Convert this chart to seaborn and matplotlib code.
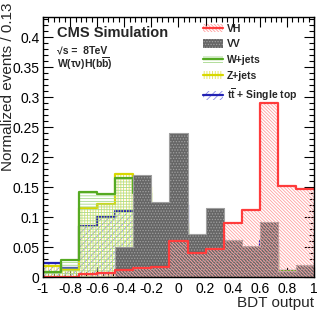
import numpy as np
import matplotlib
matplotlib.use("Agg")
import matplotlib.pyplot as plt
import seaborn as sns
from matplotlib.patches import Patch
from matplotlib.lines import Line2D
from matplotlib.ticker import MultipleLocator, FuncFormatter

# BDT output binning (15 bins between -1 and 1)
bin_edges = [-1.0, -0.8667, -0.7333, -0.6, -0.4667, -0.3333, -0.2, -0.0667,
             0.0667, 0.2, 0.3333, 0.4667, 0.6, 0.7333, 0.8667, 1.0]

# normalized yields per bin
vh = [0.0, 0.0, 0.005, 0.008, 0.012, 0.016, 0.018, 0.061,
      0.040, 0.047, 0.091, 0.112, 0.290, 0.152, 0.147]
vv = [0.0, 0.0, 0.0, 0.0, 0.050, 0.170, 0.125, 0.241,
      0.073, 0.115, 0.062, 0.053, 0.093, 0.011, 0.020]
wjets = [0.009, 0.029, 0.143, 0.139, 0.165, 0.140, 0.090, 0.080,
         0.050, 0.050, 0.030, 0.025, 0.040, 0.011, 0.0]
zjets = [0.019, 0.012, 0.115, 0.122, 0.172, 0.150, 0.080, 0.090,
         0.050, 0.060, 0.040, 0.030, 0.050, 0.008, 0.002]
ttbar = [0.024, 0.015, 0.086, 0.101, 0.110, 0.109, 0.090, 0.120,
         0.060, 0.070, 0.050, 0.040, 0.060, 0.010, 0.005]

sns.set_theme(style="ticks")
plt.rcParams.update({
    "font.family": ["Liberation Sans", "DejaVu Sans"],
    "mathtext.fontset": "custom",
    "mathtext.rm": "Liberation Sans:bold",
    "mathtext.bf": "Liberation Sans:bold",
    "mathtext.it": "Liberation Sans:bold",
    "hatch.linewidth": 0.6,
})

centers = [(a + b) / 2 for a, b in zip(bin_edges[:-1], bin_edges[1:])]

# name, values, hatch, hatch colour, line colour, face colour
samples = [
    ("tt", ttbar, "/" * 5, "#8c8ce6", "#2222b4", "none"),
    ("Z+jets", zjets, "|" * 6, "#e2e25a", "#d8d800", "none"),
    ("W+jets", wjets, "-" * 6, "#a6d88c", "#55aa22", "none"),
    ("VV", vv, "." * 6, "#a0a0a0", None, "#666666"),
    ("VH", vh, "\\" * 10, "#ffa0a0", "#ff3c3c", "none"),
]

fig = plt.figure(figsize=(3.32, 3.19), dpi=100)
ax = fig.add_axes([0.1295, 0.1307, 0.8163, 0.816])

for i, (name, vals, hatch, hcol, lcol, face) in enumerate(samples):
    z = 1 + 0.2 * i
    sns.histplot(x=centers, weights=vals, bins=bin_edges, element="step",
                 fill=True, color=hcol, facecolor=face, edgecolor=hcol, hatch=hatch,
                 linewidth=0.8 if lcol is None else 0, alpha=1, zorder=z, ax=ax)
    if lcol is not None:
        sns.histplot(x=centers, weights=vals, bins=bin_edges, element="step",
                     fill=False, color=lcol, linewidth=1.6, zorder=z + 0.1, ax=ax)

ax.set_xlim(-1, 1)
ax.set_ylim(0, 0.434)
ax.xaxis.set_major_locator(MultipleLocator(0.2))
ax.xaxis.set_minor_locator(MultipleLocator(0.04))
ax.yaxis.set_major_locator(MultipleLocator(0.05))
ax.yaxis.set_minor_locator(MultipleLocator(0.01))
fmt = FuncFormatter(lambda v, p: f"{round(v, 3):g}" if abs(v) > 1e-9 else "0")
ax.xaxis.set_major_formatter(fmt)
ax.yaxis.set_major_formatter(fmt)
ax.tick_params(which="both", direction="in", top=True, right=True,
               labelsize=10, colors="black", width=0.8)
ax.tick_params(which="major", length=7)
ax.tick_params(which="minor", length=3.5)
ax.tick_params(axis="y", pad=2.5)
ax.tick_params(axis="x", pad=3.5)
for s in ax.spines.values():
    s.set_linewidth(1.0)
    s.set_color("black")
    s.set_zorder(3)

ax.set_xlabel("BDT output", fontsize=11, loc="right")
ax.set_ylabel("Normalized events / 0.13", fontsize=11, loc="top")
ax.xaxis.set_label_coords(1.0, -0.07)
ax.yaxis.set_label_coords(-0.105, 1.055)

ax.text(0.052, 0.923, "CMS Simulation", transform=ax.transAxes,
        fontsize=10.5, fontweight="bold", va="baseline")
ax.text(0.052, 0.870, "\u221as =  8TeV", transform=ax.transAxes,
        fontsize=7.5, fontweight="bold", va="center")
ax.text(0.052, 0.822, "W(\u03c4\u03bd)H(b$\\overline{\\mathrm{b}}$)",
        transform=ax.transAxes, fontsize=7.5, fontweight="bold", va="center")

# legend in ROOT style: fill pattern with the line drawn through it
labels = {"VH": "VH", "VV": "VV", "W+jets": "W+jets", "Z+jets": "Z+jets",
          "tt": r"t$\overline{\mathrm{t}}$ + Single top"}
handles, texts = [], []
for name, vals, hatch, hcol, lcol, face in reversed(samples):
    patch = Patch(facecolor=face, edgecolor=hcol, hatch=hatch, linewidth=0)
    if lcol is None:
        handles.append(patch)
    else:
        handles.append((patch, Line2D([], [], color=lcol, lw=1.6)))
    texts.append(labels[name])
leg = ax.legend(handles, texts, loc="upper left", bbox_to_anchor=(0.59, 0.975),
                frameon=False, fontsize=7.5, handlelength=1.9, handleheight=0.9,
                handletextpad=0.4, labelspacing=0.55, borderpad=0, borderaxespad=0)
leg.set_zorder(5)
for t in leg.get_texts():
    t.set_fontweight("bold")

fig.savefig("out.png", dpi=100)
